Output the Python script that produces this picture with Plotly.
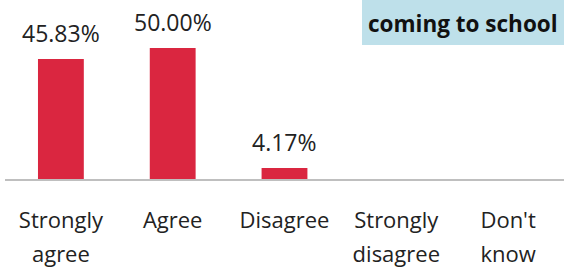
import plotly.graph_objects as go

categories = ["Strongly<br>agree", "Agree", "Disagree", "Strongly<br>disagree", "Don't<br>know"]
values = [45.83, 50.00, 4.17, 0, 0]
labels = ["45.83%", "50.00%", "4.17%", "", ""]
title_text = "coming to school"

W, H = 564, 276
ml, mr, mt, mb = 5, 0, 0, 97
pw = W - ml - mr
ph = H - mt - mb

fig = go.Figure()
fig.add_trace(go.Bar(
    x=list(range(len(categories))), y=values,
    marker=dict(color="#DA2640", line=dict(width=0)),
    width=0.41,
    hoverinfo="skip",
))

for i, (v, t) in enumerate(zip(values, labels)):
    if t:
        fig.add_annotation(x=i, y=v, text=t, showarrow=False, yanchor="bottom",
                           yshift=8, font=dict(family="Open Sans", size=23, color="#222222"))

# title box (top-right)
x0 = (362 - ml) / pw
y0 = 1 - 45 / ph
fig.add_shape(type="rect", xref="paper", yref="paper", x0=x0, x1=1.01, y0=y0, y1=1.02,
              fillcolor="#BEE0EA", line=dict(width=0), layer="below")
fig.add_annotation(xref="paper", yref="paper", x=(x0 + 1) / 2, y=1 - 23 / ph,
                   xanchor="center", yanchor="middle",
                   text="<b>" + title_text + "</b>", showarrow=False,
                   font=dict(family="Open Sans", size=22.5, color="#111111"))

ticktext = ["<span style='font-size:22px'>" + c.replace("<br>", "</span><br><span style='font-size:22px'>") + "</span>" for c in categories]

fig.update_layout(
    width=W, height=H,
    margin=dict(l=ml, r=mr, t=mt, b=mb, pad=0),
    paper_bgcolor="white", plot_bgcolor="white",
    showlegend=False,
    bargap=0.59,
    xaxis=dict(
        range=[-0.5, len(categories) - 0.5],
        tickmode="array", tickvals=list(range(len(categories))), ticktext=ticktext,
        tickfont=dict(family="Open Sans", size=26, color="#222222"),
        showline=True, linecolor="#BFBFBF", linewidth=1.5,
        ticks="", showgrid=False, zeroline=False, ticklabelstandoff=16,
    ),
    yaxis=dict(range=[0, 50 * ph / 131], visible=False, showgrid=False, zeroline=False),
)

fig.write_html("out.html", config={"displayModeBar": False},
               post_script="document.body.style.margin='0';")
